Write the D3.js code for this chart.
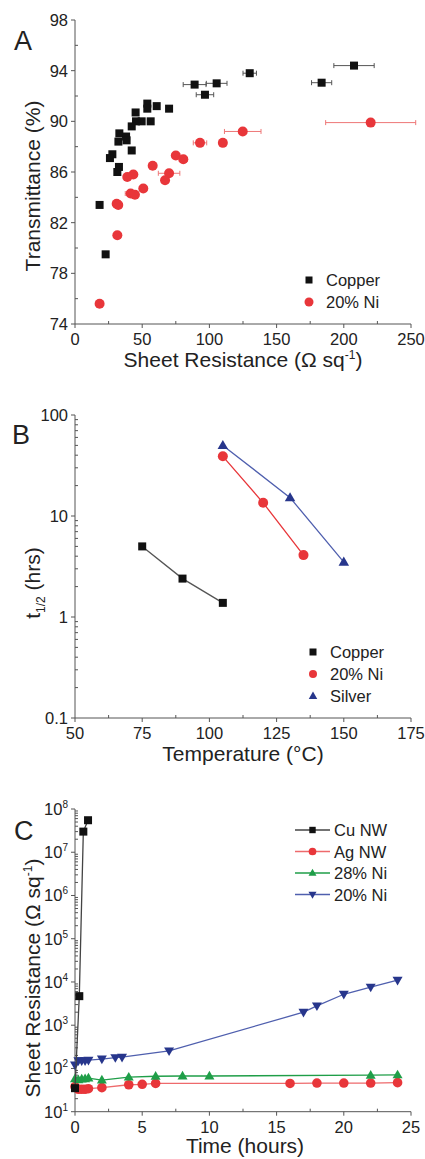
<!DOCTYPE html>
<html>
<head>
<meta charset="utf-8">
<script src="https://cdn.jsdelivr.net/npm/d3@7"></script>
<style>
body { margin: 0; background: #fff; }
text { font-family: "Liberation Sans", Arial, sans-serif; fill: #222; }
</style>
</head>
<body>
<svg width="425" height="1159"></svg>
<script>
// panel A: transmittance vs sheet resistance
var cuR = [207.6, 130, 183.5, 89, 105.4, 96.7, 53.8, 53.8, 60.8, 70, 45.1, 49.6, 45.4, 56.3, 42.2, 33, 38, 38.4, 32.3, 42.2, 27.8, 26, 32.7, 31.5, 18.3, 22.8];
var cuT = [94.4, 93.8, 93.05, 92.9, 93.0, 92.1, 91.4, 91.0, 91.2, 91.0, 90.7, 90.0, 90.0, 90.0, 89.6, 89.05, 88.8, 88.5, 88.4, 87.7, 87.4, 87.1, 86.4, 86.0, 83.4, 79.5];
var cuErr = [15, 5, 7.5, 8.5, 7.7, 6.5, 0, 0, 0, 0, 0, 0, 0, 0, 0, 0, 0, 0, 0, 0, 0, 0, 0, 0, 0, 0];
var niR = [220, 124.8, 93, 110, 75, 80.6, 57.8, 70, 67, 43.4, 38.9, 50.8, 41.4, 44.6, 31, 32.2, 31.5, 18.3];
var niT = [89.9, 89.2, 88.3, 88.3, 87.3, 87.0, 86.5, 85.9, 85.35, 85.8, 85.6, 84.7, 84.3, 84.2, 83.5, 83.4, 81.0, 75.6];
var niErr = [33.5, 13.6, 5, 2, 0, 3, 0, 8, 0, 0, 0, 0, 4, 0, 0, 0, 0, 0];
var aXTicks = [0, 50, 100, 150, 200, 250];
var aYTicks = [74, 78, 82, 86, 90, 94, 98];

// panel B: half-life vs temperature
var bCuTemp = [75, 90, 105], bCuT = [5.0, 2.4, 1.38];
var bNiTemp = [105, 120, 135], bNiT = [39, 13.5, 4.1];
var bAgTemp = [105, 130, 150], bAgT = [50, 15.2, 3.5];
var bXTicks = [50, 75, 100, 125, 150, 175];
var bYTicks = [0.1, 1, 10, 100];

// panel C: sheet resistance vs time
var cCuTime = [0, 0.32, 0.62, 0.97], cCuR = [35, 4700, 3.0e7, 5.5e7];
var cAgTime = [0, 0.25, 0.5, 0.75, 1, 2, 4, 5, 6, 16, 18, 20, 22, 24];
var cAgR = [38, 33, 33, 33, 34, 36, 42, 43, 45, 45, 46, 46, 46, 47];
var cNi28Time = [0, 0.25, 0.5, 0.75, 1, 2, 4, 6, 8, 10, 22, 24];
var cNi28R = [58, 55, 57, 58, 60, 54, 63, 66, 67, 67, 70, 71];
var cNi20Time = [0, 0.25, 0.5, 0.75, 1, 2, 3, 3.5, 7, 17, 18, 20, 22, 24];
var cNi20R = [120, 150, 150, 150, 155, 165, 178, 182, 255, 2000, 2800, 5200, 7600, 11000];
var cXTicks = [0, 5, 10, 15, 20, 25];
var cYExp = [1, 2, 3, 4, 5, 6, 7, 8];

var black = "#111", red = "#e8363a", blue = "#27368c", green = "#1f9e48";
var axisCol = "#555";
var svg = d3.select("svg");

function drawAxes(g, x, y, xt, yt, xMinor, yMinor, yFmt) {
  var xr = x.range(), yr = y.range();
  g.append("line").attr("x1", xr[0]).attr("x2", xr[1]).attr("y1", yr[0]).attr("y2", yr[0]).attr("stroke", axisCol);
  g.append("line").attr("x1", xr[0]).attr("x2", xr[0]).attr("y1", yr[0]).attr("y2", yr[1]).attr("stroke", axisCol);
  xt.forEach(function (d) {
    g.append("line").attr("x1", x(d)).attr("x2", x(d)).attr("y1", yr[0]).attr("y2", yr[0] + 4).attr("stroke", axisCol);
    g.append("text").attr("x", x(d)).attr("y", yr[0] + 21).attr("text-anchor", "middle").attr("font-size", 16.5).text(d);
  });
  xMinor.forEach(function (d) {
    g.append("line").attr("x1", x(d)).attr("x2", x(d)).attr("y1", yr[0]).attr("y2", yr[0] - 3).attr("stroke", axisCol);
  });
  yt.forEach(function (d) {
    g.append("line").attr("x1", xr[0]).attr("x2", xr[0] - 4).attr("y1", y(d)).attr("y2", y(d)).attr("stroke", axisCol);
    if (yFmt) yFmt(g, d);
    else g.append("text").attr("x", xr[0] - 7).attr("y", y(d) + 6).attr("text-anchor", "end").attr("font-size", 16.5).text(d);
  });
  yMinor.forEach(function (d) {
    g.append("line").attr("x1", xr[0]).attr("x2", xr[0] + 3).attr("y1", y(d)).attr("y2", y(d)).attr("stroke", axisCol);
  });
}

function logMinor(lo, hi) {
  var out = [];
  for (var e = lo; e < hi; e++) for (var k = 2; k < 10; k++) out.push(k * Math.pow(10, e));
  return out;
}

function square(g, cx, cy, s, col) {
  g.append("rect").attr("x", cx - s / 2).attr("y", cy - s / 2).attr("width", s).attr("height", s).attr("fill", col);
}
function tri(g, cx, cy, s, col, down) {
  var h = s * 0.87, dir = down ? -1 : 1;
  g.append("path").attr("d", "M" + cx + "," + (cy - dir * h * 0.6) + "L" + (cx + s / 2) + "," + (cy + dir * h * 0.4) + "L" + (cx - s / 2) + "," + (cy + dir * h * 0.4) + "Z").attr("fill", col);
}

// ---------- A ----------
var gA = svg.append("g");
var xA = d3.scaleLinear().domain([0, 250]).range([75, 411]);
var yA = d3.scaleLinear().domain([74, 98]).range([324, 20]);
drawAxes(gA, xA, yA, aXTicks, aYTicks, d3.range(25, 250, 50), d3.range(76, 98, 4));

niR.forEach(function (r, i) {
  if (niErr[i] > 0) {
    var yy = yA(niT[i]);
    gA.append("line").attr("x1", xA(r - niErr[i])).attr("x2", xA(r + niErr[i])).attr("y1", yy).attr("y2", yy).attr("stroke", "#e77").attr("stroke-width", 1);
    [r - niErr[i], r + niErr[i]].forEach(function (e) {
      gA.append("line").attr("x1", xA(e)).attr("x2", xA(e)).attr("y1", yy - 2.5).attr("y2", yy + 2.5).attr("stroke", "#e77");
    });
  }
});
cuR.forEach(function (r, i) {
  if (cuErr[i] > 0) {
    var yy = yA(cuT[i]);
    gA.append("line").attr("x1", xA(r - cuErr[i])).attr("x2", xA(r + cuErr[i])).attr("y1", yy).attr("y2", yy).attr("stroke", "#555");
    [r - cuErr[i], r + cuErr[i]].forEach(function (e) {
      gA.append("line").attr("x1", xA(e)).attr("x2", xA(e)).attr("y1", yy - 2.5).attr("y2", yy + 2.5).attr("stroke", "#555");
    });
  }
});
gA.selectAll("circle.ni").data(niR).enter().append("circle")
  .attr("cx", function (d) { return xA(d); })
  .attr("cy", function (d, i) { return yA(niT[i]); })
  .attr("r", 5).attr("fill", red);
gA.selectAll("rect.cu").data(cuR).enter().append("rect")
  .attr("x", function (d) { return xA(d) - 4; })
  .attr("y", function (d, i) { return yA(cuT[i]) - 4; })
  .attr("width", 8).attr("height", 8).attr("fill", black);

gA.append("text").attr("x", 14).attr("y", 50).attr("font-size", 27).text("A");
gA.append("text").attr("transform", "translate(40,186) rotate(-90)").attr("text-anchor", "middle").attr("font-size", 21).text("Transmittance (%)");
var tA = gA.append("text").attr("x", 243).attr("y", 367).attr("text-anchor", "middle").attr("font-size", 21);
tA.append("tspan").text("Sheet Resistance (\u03A9 sq");
tA.append("tspan").attr("dy", -8).attr("font-size", 12).text("-1");
tA.append("tspan").attr("dy", 8).text(")");
square(gA, 309, 280, 7, black);
gA.append("text").attr("x", 326).attr("y", 286).attr("font-size", 16.5).text("Copper");
gA.append("circle").attr("cx", 309).attr("cy", 302).attr("r", 4.5).attr("fill", red);
gA.append("text").attr("x", 326).attr("y", 308).attr("font-size", 16.5).text("20% Ni");

// ---------- B ----------
var gB = svg.append("g");
var xB = d3.scaleLinear().domain([50, 175]).range([75, 411]);
var yB = d3.scaleLog().domain([0.1, 100]).range([718, 415]);
drawAxes(gB, xB, yB, bXTicks, bYTicks, d3.range(62.5, 175, 25), logMinor(-1, 2));

var lineB = d3.line().x(function (d) { return xB(d[0]); }).y(function (d) { return yB(d[1]); });
var bSeries = [
  { t: bCuTemp, v: bCuT, col: black, line: "#555", shape: "sq" },
  { t: bNiTemp, v: bNiT, col: red, line: red, shape: "ci" },
  { t: bAgTemp, v: bAgT, col: blue, line: "#4f5fae", shape: "tr" }
];
bSeries.forEach(function (s) {
  var pts = d3.zip(s.t, s.v);
  gB.append("path").attr("d", lineB(pts)).attr("fill", "none").attr("stroke", s.line).attr("stroke-width", 1.3);
  pts.forEach(function (p) {
    if (s.shape === "sq") square(gB, xB(p[0]), yB(p[1]), 8, s.col);
    else if (s.shape === "ci") gB.append("circle").attr("cx", xB(p[0])).attr("cy", yB(p[1])).attr("r", 5).attr("fill", s.col);
    else tri(gB, xB(p[0]), yB(p[1]), 10.5, s.col);
  });
});
gB.append("text").attr("x", 12).attr("y", 444).attr("font-size", 27).text("B");
var tB = gB.append("text").attr("transform", "translate(40,583) rotate(-90)").attr("text-anchor", "middle").attr("font-size", 21);
tB.append("tspan").text("t");
tB.append("tspan").attr("dy", 5).attr("font-size", 12).text("1/2");
tB.append("tspan").attr("dy", -5).text(" (hrs)");
gB.append("text").attr("x", 243).attr("y", 761).attr("text-anchor", "middle").attr("font-size", 21).text("Temperature (\u00B0C)");
square(gB, 313, 652, 7, black);
gB.append("text").attr("x", 330).attr("y", 658).attr("font-size", 16.5).text("Copper");
gB.append("circle").attr("cx", 313).attr("cy", 674).attr("r", 4).attr("fill", red);
gB.append("text").attr("x", 330).attr("y", 680).attr("font-size", 16.5).text("20% Ni");
tri(gB, 313, 696, 8.5, blue);
gB.append("text").attr("x", 330).attr("y", 702).attr("font-size", 16.5).text("Silver");

// ---------- C ----------
var gC = svg.append("g");
var xC = d3.scaleLinear().domain([0, 25]).range([75, 411]);
var yC = d3.scaleLog().domain([10, 1e8]).range([1111.7, 809]);
drawAxes(gC, xC, yC, cXTicks, cYExp.map(function (e) { return Math.pow(10, e); }), d3.range(2.5, 25, 5), logMinor(1, 8), function (g, d) {
  var t = g.append("text").attr("x", 68).attr("y", yC(d) + 6).attr("text-anchor", "end").attr("font-size", 16.5);
  t.append("tspan").text("10");
  t.append("tspan").attr("dy", -7).attr("font-size", 10).text(Math.round(Math.log10(d)));
});

var lineC = d3.line().x(function (d) { return xC(d[0]); }).y(function (d) { return yC(d[1]); });
var cSeries = [
  { t: cAgTime, v: cAgR, col: red, line: "#ee6a6c", shape: "ci", name: "Ag NW" },
  { t: cNi28Time, v: cNi28R, col: green, line: green, shape: "tr", name: "28% Ni" },
  { t: cNi20Time, v: cNi20R, col: blue, line: "#4f5fae", shape: "dn", name: "20% Ni" },
  { t: cCuTime, v: cCuR, col: black, line: "#444", shape: "sq", name: "Cu NW" }
];
function markC(g, shape, cx, cy, col, sc) {
  if (shape === "sq") square(g, cx, cy, 8 * sc, col);
  else if (shape === "ci") g.append("circle").attr("cx", cx).attr("cy", cy).attr("r", 4.8 * sc).attr("fill", col);
  else if (shape === "tr") tri(g, cx, cy, 10 * sc, col);
  else tri(g, cx, cy, 10 * sc, col, true);
}
cSeries.forEach(function (s) {
  var pts = d3.zip(s.t, s.v);
  gC.append("path").attr("d", lineC(pts)).attr("fill", "none").attr("stroke", s.line).attr("stroke-width", 1.3);
  pts.forEach(function (p) { markC(gC, s.shape, xC(p[0]), yC(p[1]), s.col, 1); });
});
gC.append("text").attr("x", 14).attr("y", 840).attr("font-size", 27).text("C");
var tC = gC.append("text").attr("transform", "translate(40,978) rotate(-90)").attr("text-anchor", "middle").attr("font-size", 21);
tC.append("tspan").text("Sheet Resistance (\u03A9 sq");
tC.append("tspan").attr("dy", -8).attr("font-size", 12).text("-1");
tC.append("tspan").attr("dy", 8).text(")");
gC.append("text").attr("x", 245).attr("y", 1153).attr("text-anchor", "middle").attr("font-size", 21).text("Time (hours)");
var legC = [cSeries[3], cSeries[0], cSeries[1], cSeries[2]];
legC.forEach(function (s, i) {
  var ly = 830 + i * 21.5;
  gC.append("line").attr("x1", 295).attr("x2", 330).attr("y1", ly).attr("y2", ly).attr("stroke", s.line).attr("stroke-width", 1.3);
  markC(gC, s.shape, 312.5, ly, s.col, 0.8);
  gC.append("text").attr("x", 334).attr("y", ly + 6).attr("font-size", 16.5).text(s.name);
});
</script>
</body>
</html>
